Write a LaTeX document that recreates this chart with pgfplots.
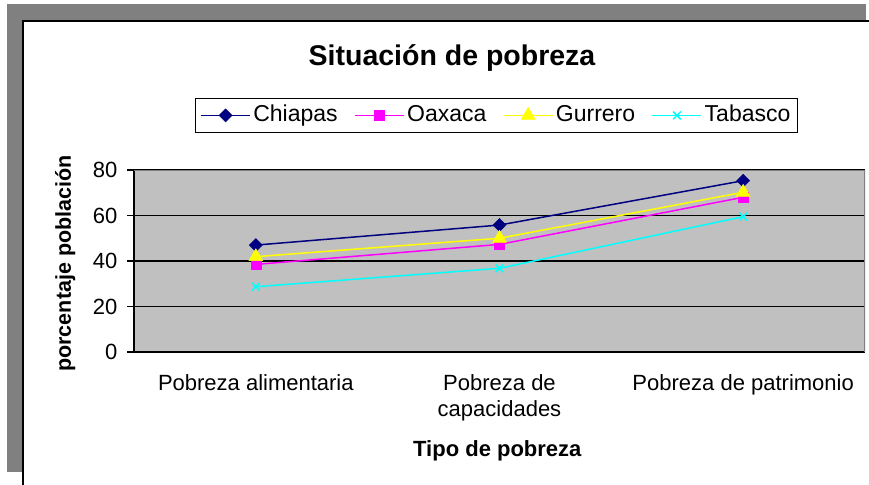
\documentclass[border=0pt]{standalone}
\usepackage{fontspec}
\setmainfont{Liberation Sans}
\usepackage{pgfplots}
\pgfplotsset{compat=1.18}

\definecolor{cChiapas}{HTML}{000080}
\definecolor{cOaxaca}{HTML}{FF00FF}
\definecolor{cGurrero}{HTML}{FFFF00}
\definecolor{cTabasco}{HTML}{00FFFF}
\definecolor{plotbg}{HTML}{C0C0C0}
\definecolor{framegray}{HTML}{808080}

\begin{document}
\begin{tikzpicture}[x=1pt,y=1pt]
\path[use as bounding box] (0,0) rectangle (869,-484);
\clip (0,0) rectangle (869,-484);
% Excel style frame
\fill[framegray] (7,-4) rectangle (866,-472);
\filldraw[fill=white,draw=black,line width=1.5pt] (23,-21) rectangle (900,-520);
\begin{axis}[
    at={(134pt,-352pt)}, anchor=south west,
    scale only axis, width=731pt, height=182pt,
    xmin=-0.5, xmax=2.5, ymin=0, ymax=80,
    axis x line*=bottom, axis y line*=left,
    axis line style={black, line width=1.5pt, -},
    axis background/.style={fill=plotbg},
    xtick={0,1,2},
    xticklabels={Pobreza alimentaria, {Pobreza de\\capacidades}, Pobreza de patrimonio},
    x tick label style={align=center, yshift=-12pt, font=\fontsize{22}{26}\selectfont},
    xtick style={draw=none},
    extra x ticks={0.5,1.5,2.5},
    extra x tick labels={},
    extra x tick style={tick style={draw=black, line width=1.3pt}, major tick length=7pt, tick align=outside},
    ytick={0,20,40,60,80},
    y tick label style={xshift=-6pt, font=\fontsize{22}{26}\selectfont},
    /pgf/number format/assume math mode=true,
    ytick style={draw=black, line width=1.3pt},
    major tick length=7pt, tick align=outside,
    ymajorgrids, grid style={black, line width=1.3pt},
    title={Situación de pobreza},
    title style={at={(axis description cs:0.435,1.583)}, anchor=center, font=\bfseries\fontsize{28.5}{32}\selectfont},
    xlabel={Tipo de pobreza},
    xlabel style={at={(axis description cs:0.497,-0.545)}, anchor=center, font=\bfseries\fontsize{22}{26}\selectfont},
    ylabel={porcentaje población},
    ylabel style={at={(axis description cs:-0.094,0.486)}, anchor=center, font=\bfseries\fontsize{21.5}{26}\selectfont},
    legend columns=4,
    legend style={at={(axis description cs:0.496,1.300)}, anchor=center, draw=black, line width=1.2pt,
        font=\fontsize{23}{27}\selectfont, inner xsep=5pt, inner ysep=4pt,
        nodes={inner xsep=2.5pt, text height=17pt, text depth=5pt},
        /tikz/every even column/.append style={column sep=14pt}},
    legend image code/.code={\draw[line width=1.5pt, mark repeat=2,mark phase=2] plot coordinates {(0pt,0pt) (24.5pt,0pt) (49pt,0pt)};},
    every axis plot/.append style={line width=1.5pt},
]
\addplot[color=cChiapas, mark=square*, mark size=4.6pt, mark options={rotate=45, line width=0.5pt}]
    coordinates {(0,47.0) (1,55.8) (2,75.3)};
\addlegendentry{Chiapas}
\addplot[color=cOaxaca, mark=square*, mark size=5pt, mark options={line width=0.5pt}]
    coordinates {(0,38.5) (1,47.3) (2,68.0)};
\addlegendentry{Oaxaca}
\addplot[color=cGurrero, mark=triangle*, mark size=8pt, mark options={line width=0.5pt}]
    coordinates {(0,41.9) (1,50.0) (2,70.2)};
\addlegendentry{Gurrero}
\addplot[color=cTabasco, mark=x, mark size=5.5pt]
    coordinates {(0,28.7) (1,36.8) (2,59.5)};
\addlegendentry{Tabasco}
\draw[framegray, line width=1.5pt] (rel axis cs:0,1) -- (rel axis cs:1,1) -- (rel axis cs:1,0);
\end{axis}
\end{tikzpicture}
\end{document}
